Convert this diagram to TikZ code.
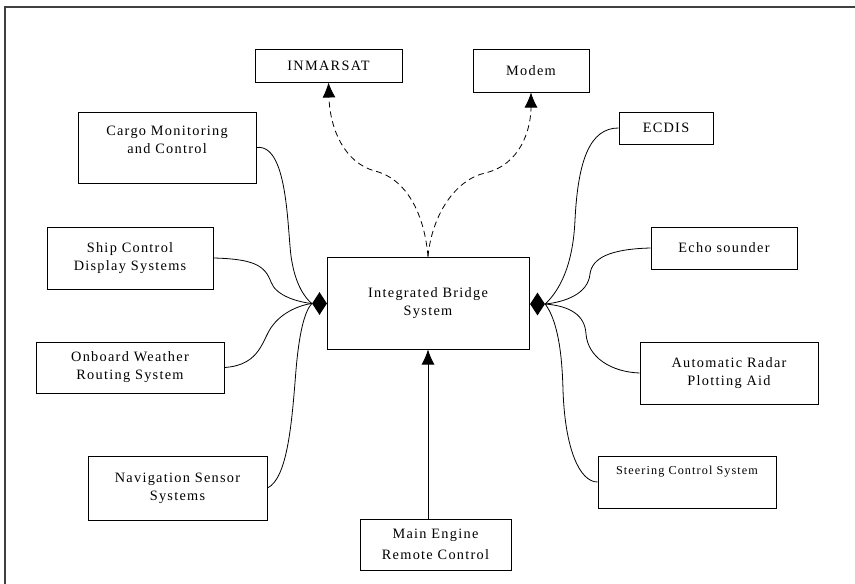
\documentclass[tikz,border=0pt]{standalone}
\usepackage{fontspec}
\setmainfont[LetterSpace=9]{Liberation Serif}
\usetikzlibrary{shapes.geometric,arrows.meta}
\begin{document}
\begin{tikzpicture}[x=1pt,y=-1pt]
            \tikzstyle{every picture}=[thin]
            \tikzstyle{unit}=[draw,rectangle,line width=1pt,align=center,inner sep=0pt,font=\fontsize{14.3}{18}\selectfont]
            \tikzstyle{joint}=[diamond,fill=black,draw=none,inner sep=0pt,minimum width=15pt,minimum height=23pt]
            \tikzstyle{link}=[line width=0.8pt]
            \tikzstyle{comm}=[line width=0.8pt,dash pattern=on 6pt off 4pt,-{Latex[length=15pt,width=13pt]}]
            \useasboundingbox (0,0) rectangle (855,584);
            \draw[line width=1.3pt,black!75] (5,584) -- (5,7) -- (855,7);
            % centre and outer systems
            \draw (428,303) node [unit,minimum width=202pt,minimum height=92pt] (ibs) {Integrated Bridge\\System};
            \draw (328.5,65.5) node [unit,minimum width=147pt,minimum height=33pt] (inmarsat) {INMARSAT};
            \draw (531,70.5) node [unit,minimum width=116pt,minimum height=43pt] (modem) {Modem};
            \draw (167,147.5) node [unit,minimum width=178pt,minimum height=71pt,text depth=16pt] (cargo) {Cargo Monitoring\\and Control};
            \draw (130,258) node [unit,minimum width=166pt,minimum height=62pt] (ship) {Ship Control\\Display Systems};
            \draw (130,367.5) node [unit,minimum width=188pt,minimum height=51pt] (weather) {Onboard Weather\\Routing System};
            \draw (177.5,488) node [unit,minimum width=179pt,minimum height=64pt] (nav) {Navigation Sensor\\Systems};
            \draw (435.5,544.5) node [unit,minimum width=151pt,minimum height=51pt,font=\fontsize{14.3}{21}\selectfont] (engine) {Main Engine\\Remote Control};
            \draw (666,128) node [unit,minimum width=94pt,minimum height=32pt] (ecdis) {ECDIS};
            \draw (724,248) node [unit,minimum width=146pt,minimum height=42pt] (echo) {Echo sounder};
            \draw (729,373) node [unit,minimum width=178pt,minimum height=62pt] (arpa) {Automatic Radar\\Plotting Aid};
            \draw (687,482) node [unit,minimum width=178pt,minimum height=52pt,font=\fontsize{12.2}{18}\selectfont] (steer) {Steering Control System\\\strut};
            \draw (319.5,303.5) node [joint] (ljoin) {};
            \draw (537.5,304) node [joint] (rjoin) {};
            % left side
            \draw[link] (cargo.east) .. controls (290,143) and (287,240) .. (292,262) .. controls (296,285) and (305,298) .. (ljoin.west);
            \draw[link] (ship.east) .. controls (255,259) and (265,266) .. (271,282) .. controls (276,296) and (298,302) .. (ljoin.west);
            \draw[link] (weather.east) .. controls (262,365) and (262,338) .. (273,325) .. controls (283,312) and (300,305) .. (ljoin.west);
            \draw[link] (nav.east) .. controls (288,478) and (292,420) .. (296,370) .. controls (299,335) and (304,312) .. (ljoin.west);
            % right side
            \draw[link] (ecdis.west) .. controls (590,128) and (578,160) .. (575,220) .. controls (573,265) and (560,290) .. (rjoin.east);
            \draw[link] (echo.west) .. controls (610,249) and (592,258) .. (590,274) .. controls (588,294) and (565,302) .. (rjoin.east);
            \draw[link] (rjoin.east) .. controls (570,306) and (585,315) .. (586,334) .. controls (588,358) and (612,372) .. (arpa.west);
            \draw[link] (rjoin.east) .. controls (557,320) and (562,350) .. (563,390) .. controls (565,450) and (580,482) .. (steer.west);
            % links to shore
            \draw[comm] (ibs.north) .. controls (425,220) and (410,180) .. (375,171) .. controls (345,163) and (330,130) .. (inmarsat.south);
            \draw[comm] (ibs.north) .. controls (432,215) and (455,180) .. (485,173) .. controls (520,165) and (531,130) .. (modem.south);
            \draw[link,-{Latex[length=15pt,width=13pt]}] (ibs.south |- engine.north) -- (ibs.south);
        \end{tikzpicture}
\end{document}
